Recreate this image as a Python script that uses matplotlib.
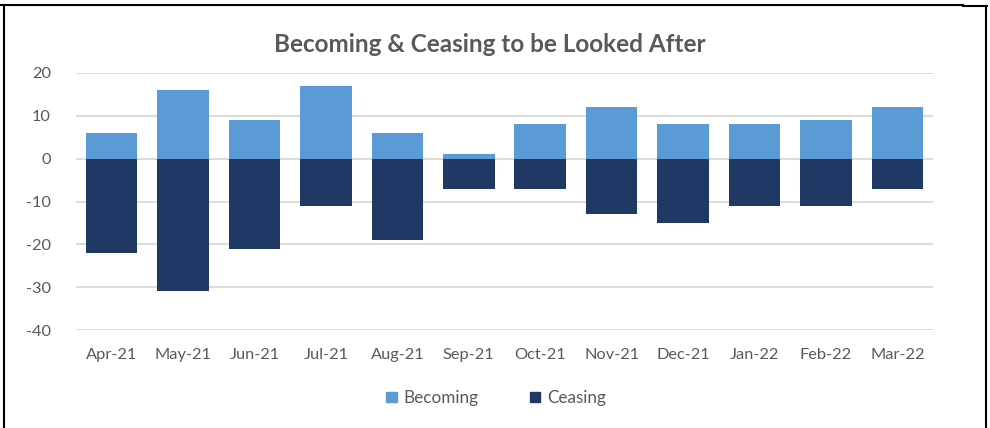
import matplotlib
matplotlib.use("Agg")
import matplotlib.pyplot as plt
import numpy as np
from matplotlib.lines import Line2D
from matplotlib.patches import Patch

# %% data
months = ["Apr-21", "May-21", "Jun-21", "Jul-21", "Aug-21", "Sep-21",
          "Oct-21", "Nov-21", "Dec-21", "Jan-22", "Feb-22", "Mar-22"]
becoming = [6, 16, 9, 17, 6, 1, 8, 12, 8, 8, 9, 12]
ceasing = [-22, -31, -21, -11, -19, -7, -7, -13, -15, -11, -11, -7]
yticks = [20, 10, 0, -10, -20, -30, -40]

lightBlue = "#5B9BD5"
navy = "#203864"
textGrey = "#595959"

plt.rcParams["font.family"] = ["Lato", "DejaVu Sans"]

# %% plot
fig = plt.figure(figsize=(9.9, 4.28), dpi=100)
ax = fig.add_axes([76/990, 1 - 330/428, (933 - 76)/990, (330 - 73)/428])

x = np.arange(len(months))
ax.bar(x, becoming, width=0.72, color=lightBlue, zorder=3)
ax.bar(x, ceasing, width=0.72, color=navy, zorder=3)

ax.set_xlim(-0.5, len(months) - 0.5)
ax.set_ylim(-40, 20)
ax.set_yticks(yticks)
ax.set_yticklabels([str(v) for v in yticks])
ax.set_xticks(x)
ax.set_xticklabels(months)
ax.tick_params(length=0, labelsize=11.8, labelcolor=textGrey)
ax.tick_params(axis="y", pad=18)
ax.tick_params(axis="x", pad=13)
ax.yaxis.grid(True, color="#D9D9D9", linewidth=1.3, zorder=0)
for s in ax.spines.values():
    s.set_visible(False)

fig.text(490/990, 1 - 44/428, "Becoming & Ceasing to be Looked After",
         ha="center", va="center", fontsize=17.5, fontweight="bold",
         color=textGrey)

handles = [Patch(color=lightBlue, label="Becoming"),
           Patch(color=navy, label="Ceasing")]
fig.legend(handles=handles, loc="center", bbox_to_anchor=(496/990, 1 - 398/428),
           ncol=2, frameon=False, fontsize=12.3, labelcolor=textGrey,
           handlelength=0.6, handleheight=0.6, handletextpad=0.4,
           columnspacing=3.0)

# frame lines round the chart
fig.add_artist(Line2D([0, 963/990], [1 - 5/428, 1 - 5/428], color="black", lw=1.5))
fig.add_artist(Line2D([963/990, 987/990], [1 - 6/428, 1 - 6/428], color="black", lw=1.5))
fig.add_artist(Line2D([4/990, 4/990], [0, 1 - 6/428], color="black", lw=1.5))
fig.add_artist(Line2D([986/990, 986/990], [0, 1 - 6/428], color="black", lw=1.5))

fig.savefig("out.png", dpi=100)
